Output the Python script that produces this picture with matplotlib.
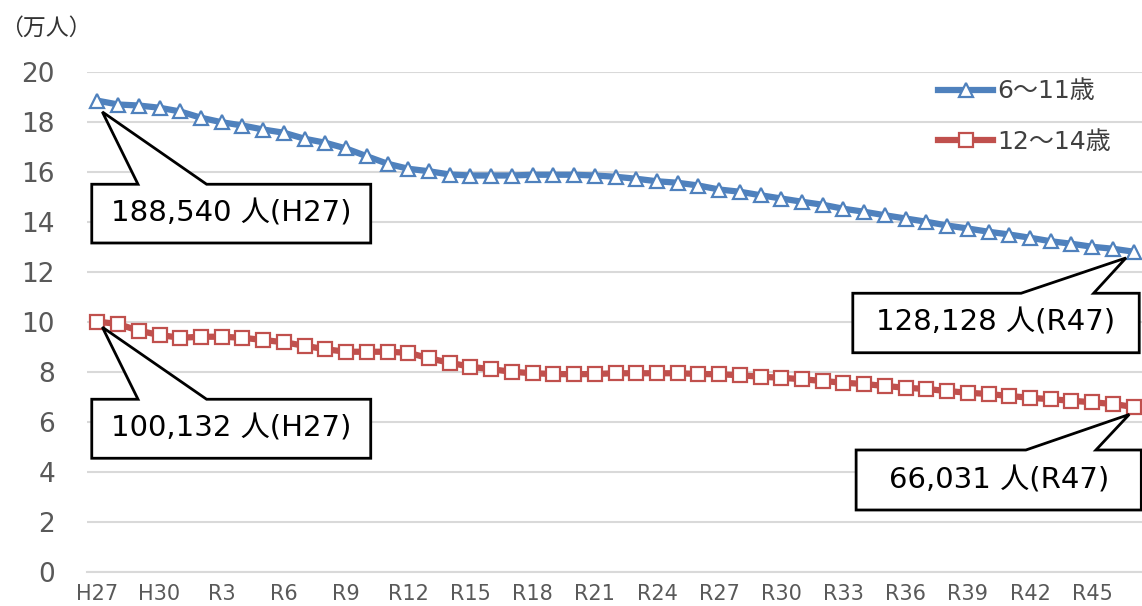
import numpy as np
import matplotlib.pyplot as plt
from matplotlib.patches import Polygon

plt.rcParams['font.family'] = ['DejaVu Sans', 'Noto Sans CJK JP']

# years H27 (2015) .. R47 (2065)
years = list(range(2015, 2066))
labels = []
for y in years:
    if y < 2019:
        labels.append("H%d" % (y - 1988))
    else:
        labels.append("R%d" % (y - 2018))
tick_every = 3

# 6~11 (10k persons)
age6_11 = [18.854, 18.70, 18.66, 18.57, 18.42, 18.17, 17.99, 17.86, 17.70, 17.57,
           17.33, 17.17, 16.94, 16.63, 16.33, 16.13, 16.03, 15.90, 15.86, 15.86,
           15.86, 15.89, 15.89, 15.89, 15.86, 15.81, 15.73, 15.63, 15.57, 15.46,
           15.30, 15.21, 15.07, 14.94, 14.81, 14.69, 14.53, 14.41, 14.27, 14.14,
           14.01, 13.86, 13.74, 13.61, 13.50, 13.37, 13.23, 13.13, 13.01, 12.93,
           12.8128]
# 12~14
age12_14 = [10.0132, 9.92, 9.65, 9.48, 9.37, 9.41, 9.41, 9.37, 9.28, 9.19,
            9.05, 8.91, 8.81, 8.81, 8.81, 8.77, 8.55, 8.37, 8.21, 8.11,
            8.01, 7.95, 7.92, 7.91, 7.92, 7.95, 7.95, 7.95, 7.95, 7.92,
            7.91, 7.87, 7.81, 7.77, 7.71, 7.64, 7.57, 7.52, 7.44, 7.37,
            7.32, 7.24, 7.17, 7.12, 7.04, 6.97, 6.91, 6.85, 6.79, 6.72,
            6.6031]

callout_texts = ["188,540 人(H27)", "128,128 人(R47)", "100,132 人(H27)", "66,031 人(R47)"]

W, H = 1142, 606
fig = plt.figure(figsize=(W / 100, H / 100), dpi=100)
ax = fig.add_axes([87 / W, (H - 572) / H, (1144 - 87) / W, 500 / H])

x = np.arange(len(years))
blue = '#4F81BD'
red = '#C0504D'
ax.plot(x, age6_11, color=blue, lw=4.5, marker='^', ms=10.5, mfc='white',
        mec=blue, mew=1.6, label='6～11歳', zorder=3, clip_on=False)
ax.plot(x, age12_14, color=red, lw=4.5, marker='s', ms=9.5, mfc='white',
        mec=red, mew=1.6, label='12～14歳', zorder=3, clip_on=False)

ax.set_xlim(-0.5, len(years) - 0.5)
ax.set_ylim(0, 20)
ax.set_yticks(range(0, 21, 2))
ax.set_xticks(x[::tick_every])
ax.set_xticklabels(labels[::tick_every])
ax.grid(axis='y', color='#D9D9D9', lw=1.5)
ax.set_axisbelow(True)
for s in ['top', 'right', 'left']:
    ax.spines[s].set_visible(False)
ax.spines['bottom'].set_color('#D9D9D9')
ax.spines['bottom'].set_linewidth(1.5)
ax.tick_params(length=0)
ax.tick_params(axis='y', labelsize=19, labelcolor='#595959', pad=23)
ax.tick_params(axis='x', labelsize=15, labelcolor='#595959', pad=9)

fig.text(0.0, 1 - 28 / H, '（万人）', fontsize=16.5, color='#333333', va='center',
         family=['Noto Sans CJK JP', 'DejaVu Sans'])

leg = ax.legend(loc='upper right', bbox_to_anchor=(0.978, 1.005), frameon=False,
                fontsize=18, handlelength=2.2, labelspacing=1.05,
                handletextpad=0.15, borderaxespad=0.0)
for t in leg.get_texts():
    t.set_color('#404040')


def callout(left, right, bottom, top, b1, b2, tip, text):
    pts = [(left, bottom), (left, top), (b1, top), tip, (b2, top),
           (right, top), (right, bottom)]
    ax.add_patch(Polygon(pts, closed=True, facecolor='white', edgecolor='black',
                         lw=2, zorder=5, clip_on=False, joinstyle='miter'))
    ax.text((left + right) / 2, (bottom + top) / 2, text, ha='center', va='center',
            fontsize=21, color='black', zorder=6)


callout(-0.27, 13.19, 13.16, 15.51, 1.96, 5.27, (0.24, age6_11[0] - 0.45), callout_texts[0])
callout(36.45, 50.27, 8.77, 11.15, 44.57, 48.07, (49.63, age6_11[-1] - 0.25), callout_texts[1])
callout(-0.27, 13.19, 4.55, 6.91, 1.96, 5.27, (0.24, age12_14[0] - 0.22), callout_texts[2])
callout(36.61, 50.37, 2.48, 4.88, 44.8, 48.18, (49.79, age12_14[-1] - 0.3), callout_texts[3])

fig.savefig('out.png', dpi=100)
